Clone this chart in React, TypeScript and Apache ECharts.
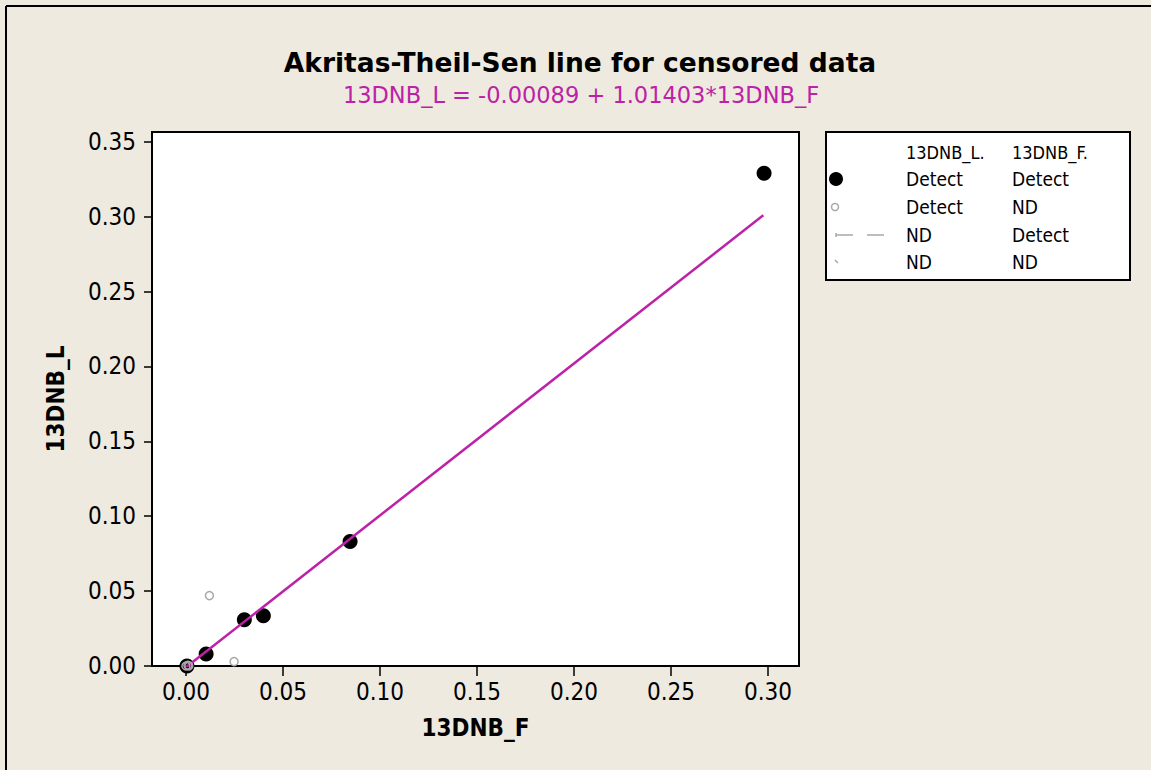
import React, { useEffect, useRef } from "react";
import * as echarts from "echarts";

// Detect / Detect points (13DNB_F, 13DNB_L)
const detectBothX = [0.0005, 0.0104, 0.0301, 0.0399, 0.0846, 0.298];
const detectBothY = [0.0, 0.008, 0.0309, 0.0336, 0.0831, 0.3289];
// Detect (L) / ND (F) points
const detectNdX = [0.0121, 0.0248, 0.0, 0.001, 0.0015];
const detectNdY = [0.047, 0.0029, 0.0, 0.0005, 0.0];
// Fitted Akritas-Theil-Sen line endpoints
const fitX = [0.0, 0.2976];
const fitY = [-0.00089, 0.30089];
// Axis ticks
const xTicks = [0, 0.05, 0.1, 0.15, 0.2, 0.25, 0.3];
const yTicks = [0, 0.05, 0.1, 0.15, 0.2, 0.25, 0.3, 0.35];
// Legend rows
const legendHeader = ["13DNB_L.", "13DNB_F."];
const legendRowsL = ["Detect", "Detect", "ND", "ND"];
const legendRowsF = ["Detect", "ND", "Detect", "ND"];

const FONT = "'DejaVu Sans Condensed', 'DejaVu Sans', sans-serif";
const WIDE = "'DejaVu Sans', sans-serif";
const MAGENTA = "#BC22A6";
const BG = "#EEEAE0";
const GRAY = "#A8A8A8";

export default function App() {
  const ref = useRef<HTMLDivElement>(null);
  useEffect(() => {
    if (!ref.current) return;
    const chart = echarts.init(ref.current, undefined, { renderer: "svg" });
    const lx = 826, ly = 132;
    const rowY = [179, 207, 235, 262];
    const legend: any[] = [
      { type: "rect", shape: { x: lx, y: ly, width: 304, height: 148 }, style: { fill: "#fff", stroke: "#000", lineWidth: 2 } },
      { type: "text", x: 906, y: 152, style: { text: legendHeader[0], font: `18px ${FONT}`, fill: "#000", verticalAlign: "middle" } },
      { type: "text", x: 1012, y: 152, style: { text: legendHeader[1], font: `18px ${FONT}`, fill: "#000", verticalAlign: "middle" } },
      { type: "circle", shape: { cx: 836, cy: rowY[0], r: 7 }, style: { fill: "#000" } },
      { type: "circle", shape: { cx: 835, cy: rowY[1], r: 3.5 }, style: { fill: "#fff", stroke: GRAY, lineWidth: 1.5 } },
      { type: "line", shape: { x1: 836, y1: rowY[2], x2: 888, y2: rowY[2] }, style: { stroke: GRAY, lineWidth: 1.5, lineDash: [17, 14] } },
      { type: "line", shape: { x1: 836, y1: rowY[2] - 2, x2: 836, y2: rowY[2] + 2 }, style: { stroke: GRAY, lineWidth: 1.5 } },
      { type: "line", shape: { x1: 835, y1: rowY[3] - 2, x2: 838, y2: rowY[3] + 1 }, style: { stroke: GRAY, lineWidth: 1.5 } },
    ];
    legendRowsL.forEach((t, i) => {
      legend.push({ type: "text", x: 906, y: rowY[i], style: { text: t, font: `19px ${FONT}`, fill: "#000", verticalAlign: "middle" } });
      legend.push({ type: "text", x: 1012, y: rowY[i], style: { text: legendRowsF[i], font: `19px ${FONT}`, fill: "#000", verticalAlign: "middle" } });
    });

    chart.setOption({
      animation: false,
      backgroundColor: BG,
      grid: { left: 152, top: 132, width: 647, height: 534, show: true, backgroundColor: "#fff", borderColor: "#000", borderWidth: 2 },
      xAxis: {
        type: "value",
        min: -0.0175,
        max: 0.316,
        name: "13DNB_F",
        nameLocation: "middle",
        nameGap: 50,
        nameTextStyle: { fontFamily: FONT, fontWeight: "bold", fontSize: 24, color: "#000" },
        axisLine: { show: true, onZero: false, lineStyle: { color: "#000", width: 2 } },
        axisTick: { show: true, length: 10, customValues: xTicks, lineStyle: { color: "#000", width: 1.5 } },
        axisLabel: { customValues: xTicks, margin: 14, fontFamily: FONT, fontSize: 24, color: "#000", formatter: (v: number) => v.toFixed(2) },
        splitLine: { show: false },
      },
      yAxis: {
        type: "value",
        min: 0,
        max: 0.3565,
        name: "13DNB_L",
        nameLocation: "middle",
        nameGap: 84,
        nameTextStyle: { fontFamily: FONT, fontWeight: "bold", fontSize: 24, color: "#000" },
        axisLine: { show: true, onZero: false, lineStyle: { color: "#000", width: 2 } },
        axisTick: { show: true, length: 8, customValues: yTicks, lineStyle: { color: "#000", width: 1.5 } },
        axisLabel: { customValues: yTicks, margin: 16, fontFamily: FONT, fontSize: 24, color: "#000", formatter: (v: number) => v.toFixed(2) },
        splitLine: { show: false },
      },
      graphic: [
        { type: "line", shape: { x1: 6, y1: 6, x2: 1151, y2: 6 }, style: { stroke: "#000", lineWidth: 2 } },
        { type: "line", shape: { x1: 6, y1: 6, x2: 6, y2: 770 }, style: { stroke: "#000", lineWidth: 2 } },
        { type: "text", x: 580, y: 62, style: { text: "Akritas-Theil-Sen line for censored data", font: `bold 26.5px ${WIDE}`, fill: "#000", align: "center", verticalAlign: "middle" } },
        { type: "text", x: 581, y: 95, style: { text: "13DNB_L = -0.00089 + 1.01403*13DNB_F", font: `22.5px ${WIDE}`, fill: MAGENTA, align: "center", verticalAlign: "middle" } },
        ...legend,
      ],
      series: [
        {
          type: "scatter",
          data: detectBothX.map((x, i) => [x, detectBothY[i]]),
          symbol: "circle",
          symbolSize: 15,
          itemStyle: { color: "#000", opacity: 1 },
          clip: false,
          z: 2,
        },
        {
          type: "line",
          data: fitX.map((x, i) => [x, fitY[i]]),
          showSymbol: false,
          symbol: "none",
          lineStyle: { color: MAGENTA, width: 2.5 },
          clip: true,
          z: 3,
        },
        {
          type: "scatter",
          data: detectNdX.map((x, i) => [x, detectNdY[i]]),
          symbol: "circle",
          symbolSize: 8,
          itemStyle: { color: "rgba(255,255,255,0)", borderColor: GRAY, borderWidth: 1.5, opacity: 1 },
          clip: false,
          z: 4,
        },
      ],
    });
    return () => chart.dispose();
  }, []);
  return <div ref={ref} style={{ position: "absolute", left: 0, top: 0, width: 1151, height: 770 }} />;
}
